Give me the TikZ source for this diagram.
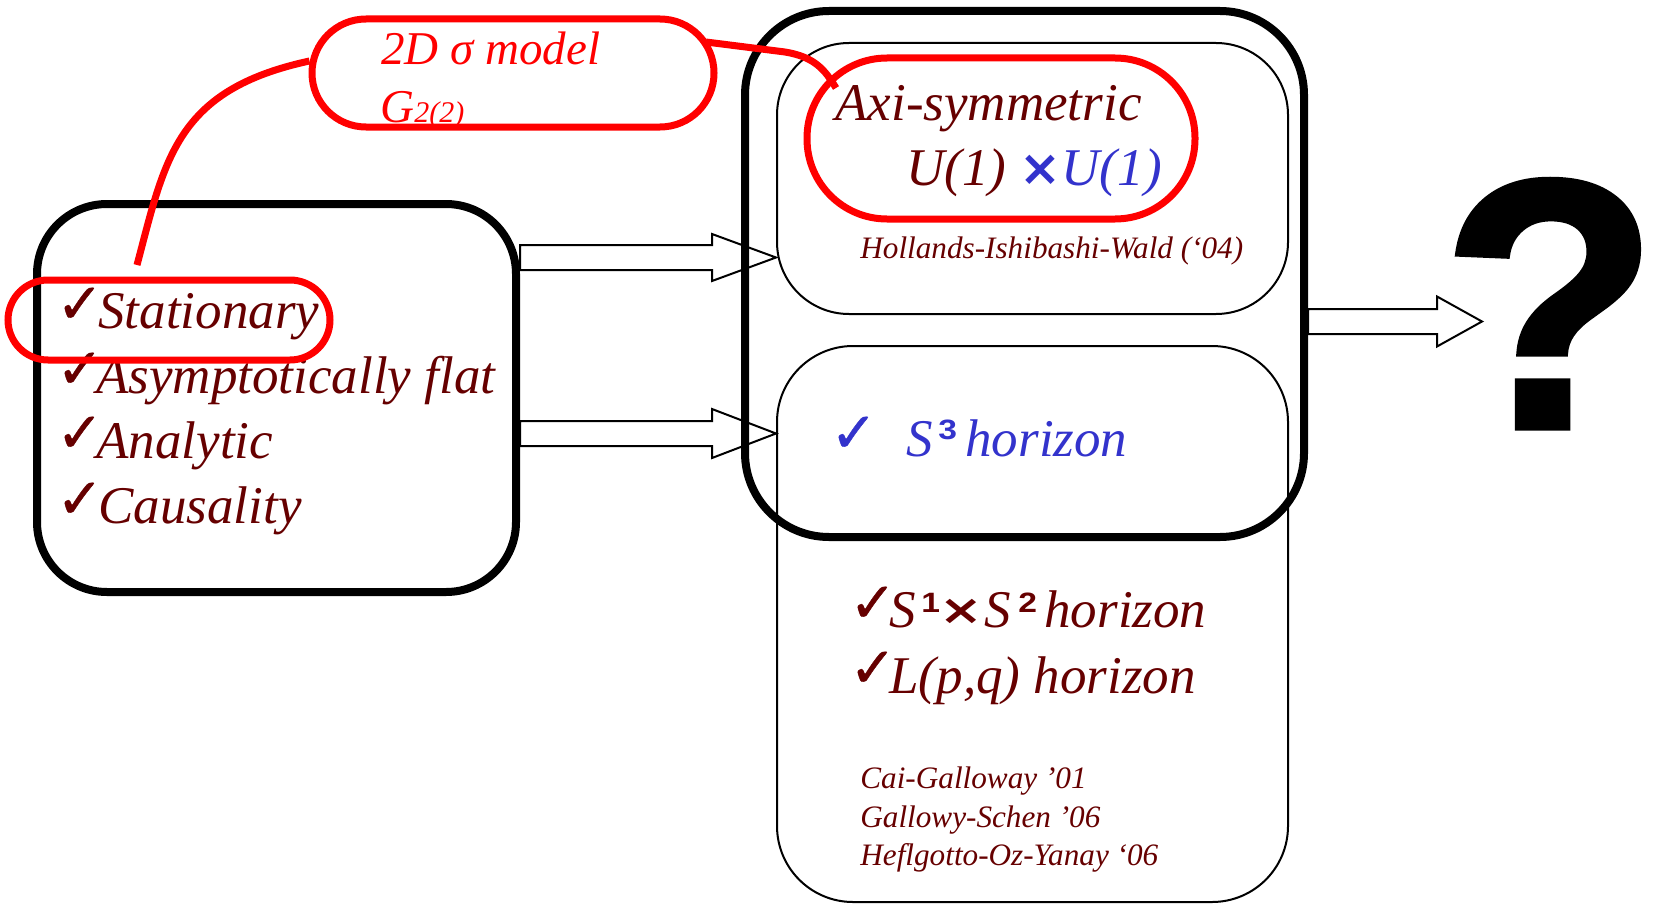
\documentclass[tikz,border=0pt]{standalone}
\usepackage{fontspec}
\setmainfont{Liberation Serif}
\newfontfamily\sansf{Liberation Sans}
\newfontfamily\qfont{Liberation Sans Bold}[FakeBold=1.5]
\newfontfamily\symf{DejaVu Sans}
\newfontfamily\chkf{DejaVu Sans}[FakeBold=0.8]
\usetikzlibrary{calc}
\pgfdeclarelayer{bg}
\pgfsetlayers{bg,main}
\definecolor{mred}{RGB}{102,0,0}
\definecolor{tblue}{RGB}{51,51,204}
\definecolor{tred}{RGB}{255,0,0}
\newcommand\crossx{{\symf\bfseries\upshape\fontsize{25pt}{25pt}\selectfont ×}}
\newcommand\ck{\makebox[16pt][l]{✓}}
\newcommand\blockarrow[4]{% start, tip, head length, head half-height
  \draw[barrow] let \p1=(#1), \p2=(#2) in
    (\x1,\y1+6.25pt) -- (\x2-#3,\y1+6.25pt) -- (\x2-#3,\y1+#4) -- (\x2,\y2)
    -- (\x2-#3,\y1-#4) -- (\x2-#3,\y1-6.25pt) -- (\x1,\y1-6.25pt) -- cycle;}
\begin{document}
\begin{tikzpicture}[x=0.5pt,y=-0.5pt,
  thickbox/.style={draw=black,line width=4pt,rounded corners=40pt,rectangle,inner sep=0pt},
  thinbox/.style={draw=black,line width=1pt,rounded corners=36pt,rectangle,inner sep=0pt},
  pill/.style={draw=tred,line width=3.5pt,rectangle,inner sep=0pt},
  big/.style={font=\fontsize{26.5pt}{30pt}\selectfont\itshape,text=mred,anchor=base west,inner sep=0pt},
  small/.style={font=\fontsize{15.6pt}{18pt}\selectfont\itshape,text=mred,anchor=base west,inner sep=0pt},
  sig/.style={font=\fontsize{23.5pt}{26pt}\selectfont\itshape,text=tred,anchor=base west,inner sep=0pt},
  chk/.style={font=\chkf\fontsize{28pt}{28pt}\selectfont,text=mred,anchor=base west,inner sep=0pt},
  supn/.style={font=\sansf\bfseries\fontsize{14pt}{14pt}\selectfont,text=mred,anchor=base west,inner sep=0pt},
  xn/.style={font=\symf\bfseries\fontsize{26pt}{26pt}\selectfont,text=mred,anchor=center,inner sep=0pt,yscale=0.8},
  qm/.style={font=\qfont\fontsize{178pt}{178pt}\selectfont,text=black,anchor=base west,inner sep=0pt},
  conn/.style={draw=tred,line width=3.5pt},
  barrow/.style={draw=black,fill=white,line width=1pt,line join=miter}]
\useasboundingbox (0,0) rectangle (1658,904);

% boxes
\node[thinbox,minimum width=255.5pt,minimum height=135.5pt] (itop) at (1032.5,178.5) {};
\node[thinbox,rounded corners=38pt,minimum width=255.5pt,minimum height=278pt] (ibot) at (1032.5,624) {};
\node[thickbox,rounded corners=42pt,minimum width=279.5pt,minimum height=263pt] (bigb) at (1024.5,274) {};
\node[thickbox,rounded corners=35pt,minimum width=239.5pt,minimum height=194pt] (lbox) at (276.5,398) {};

% block arrows
\coordinate (y1) at (0,257.5);
\coordinate (y2) at (0,433.5);
\coordinate (y3) at (0,321.5);
\coordinate (a1s) at (lbox.east |- y1);
\coordinate (a1t) at (itop.west |- y1);
\coordinate (a2s) at (lbox.east |- y2);
\coordinate (a2t) at (ibot.west |- y2);
\coordinate (a3s) at (bigb.east |- y3);
\coordinate (qtip) at (1482,321.5);
\begin{pgfonlayer}{bg}
  \blockarrow{a1s}{a1t}{32pt}{11.75pt}
  \blockarrow{a2s}{a2t}{32pt}{12.25pt}
  \blockarrow{a3s}{qtip}{22.5pt}{12.5pt}
\end{pgfonlayer}

% sigma model text (under its pill)
\node[sig] (sg1) at (381,65) {2D σ model};
\node[sig] (sg2) at (380,122) {G{\fontsize{15pt}{15pt}\selectfont 2(2)}};

% left list
\node[chk] (k1) at (56,323) {\ck};
\node[chk] (k2) at (56,388) {\ck};
\node[chk] (k3) at (56,452) {\ck};
\node[chk] (k4) at (56,518) {\ck};
\node[big] (s1) at (98,328) {Stationary};
\node[big] (s2) at (96,393) {Asymptotically flat};
\node[big] (s3) at (96,458) {Analytic};
\node[big] (s4) at (98,523) {Causality};

% top inner box
\node[big] (ax) at (835,120) {Axi-symmetric};
\node[big] (u1) at (906,185) {U(1) \textcolor{tblue}{\crossx U(1)}};
\node[small] (hw) at (860,258) {Hollands-Ishibashi-Wald (‘04)};

% bottom inner box
\node[chk,text=tblue] (k5) at (830,452) {\ck};
\node[big,text=tblue] (s3a) at (906,456) {S};
\node[supn,text=tblue] (s3b) at (938,439) {\scalebox{1.2}[1]{3}};
\node[big,text=tblue] (s3c) at (965,456) {horizon};

\node[chk] (k6) at (849,622) {\ck};
\node[big] (s12a) at (889,627) {S};
\node[supn] (s12b) at (921,612) {\scalebox{1.2}[1]{1}};
\node[xn] (s12x) at (961.5,612) {×};
\node[big] (s12c) at (984,627) {S};
\node[supn] (s12d) at (1018,612) {\scalebox{1.2}[1]{2}};
\node[big] (s12e) at (1044,627) {horizon};

\node[chk] (k7) at (849,687) {\ck};
\node[big] (lpq) at (889,693) {L(p,q) horizon};
\node[small] (r1) at (860,788) {Cai-Galloway ’01};
\node[small] (r2) at (860,827) {Gallowy-Schen ’06};
\node[small] (r3) at (860,865) {Heflgotto-Oz-Yanay ‘06};

% red pills
\node[pill,rounded corners=27pt,minimum width=201pt,minimum height=54pt] (sig) at (513,73) {};
\node[pill,rounded corners=20pt,minimum width=161pt,minimum height=40pt] (stat) at (169,320) {};
\node[pill,rounded corners=40pt,minimum width=194pt,minimum height=80.5pt] (axi) at (1001,138.5) {};

% red connectors
\coordinate (c1) at (137,265);
\coordinate (c2) at ($(sig.west)+(1,-12)$);
\coordinate (c3) at (706,42);
\coordinate (c4) at (836,88);
\draw[conn] (c1) .. controls (165,160) and (175,90) .. (c2);
\draw[conn] (c3) -- (785,52) .. controls (815,57) and (825,70) .. (c4);

% question mark
\node[qm] (q) at (1441,428) {?};
\end{tikzpicture}
\end{document}
